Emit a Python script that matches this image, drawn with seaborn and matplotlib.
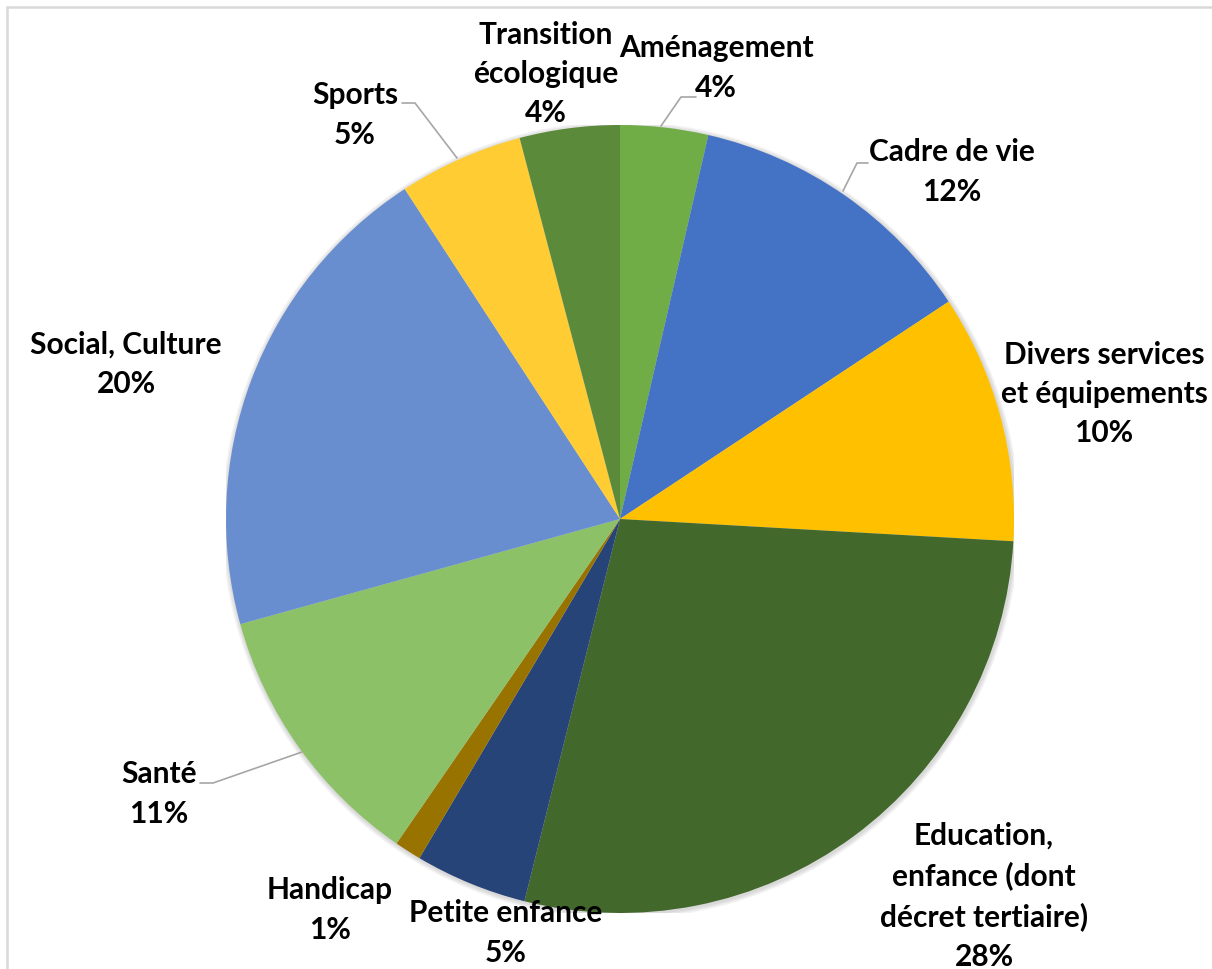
import matplotlib
matplotlib.use("Agg")
import matplotlib.pyplot as plt
import matplotlib.patheffects as pe
from matplotlib.patches import Circle, Rectangle
from matplotlib.lines import Line2D
import seaborn as sns

# ---- data (clockwise from 12 o'clock) ----
categories = ["Aménagement", "Cadre de vie", "Divers services\net équipements",
              "Education,\nenfance (dont\ndécret tertiaire)", "Petite enfance",
              "Handicap", "Santé", "Social, Culture", "Sports", "Transition\nécologique"]
values = [3.6, 12.1, 10.2, 28.0, 4.6, 1.1, 11.1, 20.1, 5.1, 4.1]
pct_labels = ["4%", "12%", "10%", "28%", "5%", "1%", "11%", "20%", "5%", "4%"]
colors = ["#70AD47", "#4472C4", "#FFC000", "#43682B", "#264478",
          "#997300", "#8CC168", "#698ED0", "#FFCD33", "#5A8A3A"]

# ---- layout (pixels) ----
W, H = 1212, 969
label_pos = [(716, 68), (952, 172), (1104, 394), (984, 896), (506, 933),
             (330, 910), (159, 794), (126, 364), (355, 115), (546, 74)]
leaders = {
    0: [(661, 126), (681, 97), (696, 97)],
    1: [(843, 191), (857, 163), (868, 163)],
    6: [(302, 752), (213, 783), (200, 783)],
    8: [(457, 158), (415, 103), (402, 103)],
}

sns.set_theme(style="white")
plt.rcParams["font.family"] = ["Lato", "DejaVu Sans"]

fig = plt.figure(figsize=(W / 100, H / 100), dpi=100)
fig.patch.set_facecolor("white")

cx, cy, r = 620, 519, 394
ax = fig.add_axes([(cx - r) / W, (H - cy - r) / H, 2 * r / W, 2 * r / H])

# soft shadow behind the pie
for k, a in enumerate([0.05, 0.05, 0.05]):
    ax.add_patch(Circle((0.002, -0.003), 1.0 + 0.004 * (k + 1), facecolor="black",
                        edgecolor="none", alpha=a, zorder=0))

ax.pie(values, colors=colors, startangle=90, counterclock=False, radius=1.0,
       wedgeprops=dict(linewidth=0, edgecolor="none", zorder=2))
ax.set_xlim(-1, 1)
ax.set_ylim(-1, 1)
ax.set_aspect("equal")
ax.axis("off")

for i, (cat, p) in enumerate(zip(categories, pct_labels)):
    x, y = label_pos[i]
    fig.text(x / W, 1 - y / H, f"{cat}\n{p}", ha="center", va="center",
             fontsize=21.5, fontweight="bold", color="black", linespacing=1.5)

for i, pts in leaders.items():
    xs = [p[0] / W for p in pts]
    ys = [1 - p[1] / H for p in pts]
    fig.add_artist(Line2D(xs, ys, color="#A6A6A6", lw=1.2, transform=fig.transFigure))

# chart frame
fig.add_artist(Rectangle((7 / W, -0.05), 1.05, 1.05 - 7 / H, transform=fig.transFigure,
                         fill=False, edgecolor="#D9D9D9", lw=1.8))

fig.savefig("out.png", dpi=100, facecolor="white")
